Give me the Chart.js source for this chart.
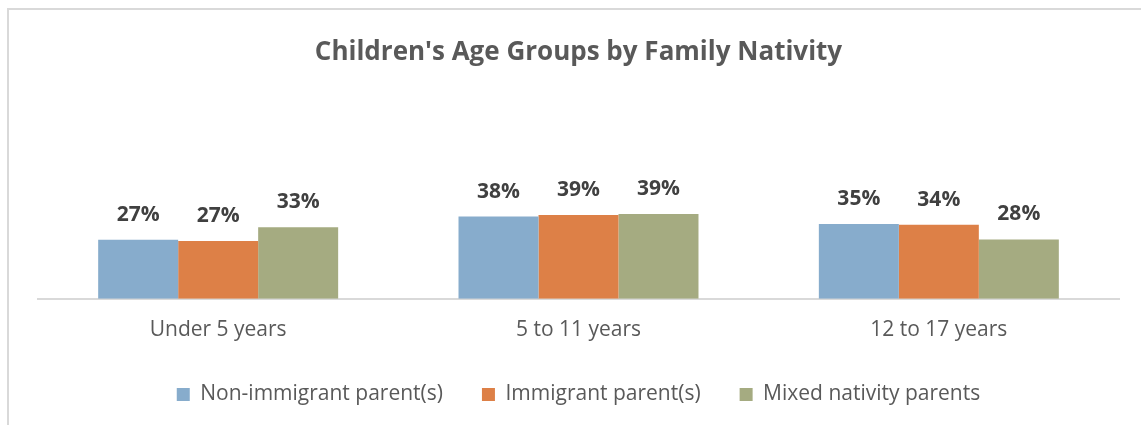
<!DOCTYPE html>
<html>
<head>
<meta charset="utf-8">
<script src="https://cdn.jsdelivr.net/npm/chart.js@4/dist/chart.umd.min.js"></script>
<style>
  html, body { margin: 0; padding: 0; overflow: hidden; background: #fff; }
  #frame { position: absolute; left: 7px; top: 8px; width: 2000px; height: 2000px;
           border-top: 2px solid #d9d9d9; border-left: 2px solid #d9d9d9; }
  #chart { position: absolute; left: 0; top: 0; }
</style>
</head>
<body>
<div id="frame"></div>
<canvas id="chart" width="1156" height="425"></canvas>
<script>
// Age group shares (%) by family nativity
const categories = ["Under 5 years", "5 to 11 years", "12 to 17 years"];
const nonImmigrant = [27.4, 38.2, 34.8];
const immigrant = [26.9, 38.9, 34.4];
const mixedNativity = [33.2, 39.4, 27.6];

const FONT = "'Open Sans', sans-serif";

// value labels above each bar
const barLabels = {
    id: "barLabels",
    afterDatasetsDraw(chart) {
        const ctx = chart.ctx;
        ctx.save();
        ctx.font = "bold 21px " + FONT;
        ctx.fillStyle = "#404040";
        ctx.textAlign = "center";
        ctx.textBaseline = "alphabetic";
        chart.data.datasets.forEach((ds, i) => {
            chart.getDatasetMeta(i).data.forEach((bar, j) => {
                ctx.fillText(Math.round(ds.data[j]) + "%", bar.x, bar.y - 19);
            });
        });
        ctx.restore();
    }
};

new Chart(document.getElementById("chart"), {
    type: "bar",
    data: {
        labels: categories,
        datasets: [
            { label: "Non-immigrant parent(s)", data: nonImmigrant, backgroundColor: "#87ACCC" },
            { label: "Immigrant parent(s)", data: immigrant, backgroundColor: "#DD8047" },
            { label: "Mixed nativity parents", data: mixedNativity, backgroundColor: "#A5AB81" }
        ]
    },
    options: {
        responsive: false,
        animation: false,
        layout: { padding: { top: 22, left: 38, right: 37, bottom: 10 } },
        datasets: { bar: { categoryPercentage: 0.666, barPercentage: 1.0 } },
        scales: {
            x: {
                grid: { display: false },
                border: { display: true, color: "#d9d9d9", width: 2 },
                ticks: { color: "#595959", font: { family: FONT, size: 21 }, padding: 11 },
                afterFit(scale) { scale.height -= 9; }
            },
            y: { display: false, min: 0, max: 50 }
        },
        plugins: {
            title: {
                display: true,
                text: "Children's Age Groups by Family Nativity",
                color: "#595959",
                font: { family: FONT, size: 26, weight: "bold" },
                padding: { top: 15, bottom: 123 }
            },
            legend: {
                position: "bottom",
                labels: {
                    color: "#595959",
                    font: { family: FONT, size: 21 },
                    boxWidth: 13,
                    boxHeight: 13,
                    padding: 39
                }
            },
            tooltip: { enabled: false }
        }
    },
    plugins: [barLabels]
});
</script>
</body>
</html>
